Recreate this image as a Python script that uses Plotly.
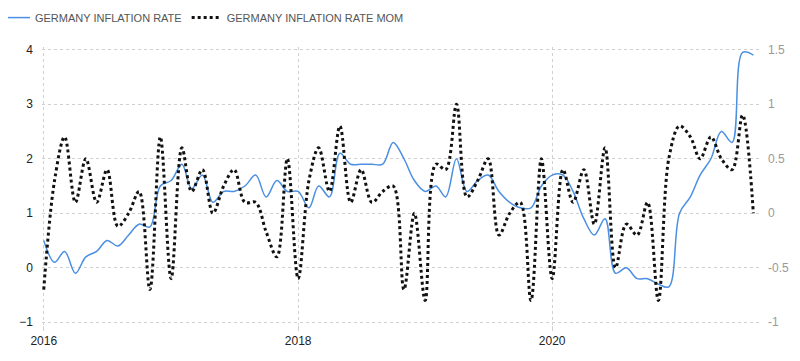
import pandas as pd
import plotly.graph_objects as go

# Monthly dates Jan 2016 .. Aug 2021
months = pd.date_range("2016-01-01", periods=68, freq="MS")

inflation_rate = [
    0.5, 0.1, 0.3, -0.1, 0.2, 0.3, 0.5, 0.4, 0.6, 0.8, 0.75, 1.5,      # 2016
    1.6, 1.9, 1.45, 1.7, 1.2, 1.4, 1.4, 1.5, 1.7, 1.3, 1.6, 1.4,       # 2017
    1.4, 1.1, 1.5, 1.3, 2.1, 1.9, 1.9, 1.9, 1.9, 2.3, 2.0, 1.6,        # 2018
    1.4, 1.5, 1.3, 2.0, 1.4, 1.6, 1.7, 1.4, 1.2, 1.1, 1.1, 1.5,        # 2019
    1.7, 1.7, 1.4, 0.9, 0.6, 0.9, -0.1, 0.0, -0.2, -0.2, -0.3, -0.35,  # 2020
    1.0, 1.3, 1.7, 2.0, 2.5, 2.3, 3.95, 3.9,                           # 2021
]

inflation_mom = [
    -0.7, 0.3, 0.7, 0.1, 0.5, 0.1, 0.4, -0.12, 0.0, 0.2, -0.7, 0.7,    # 2016
    -0.6, 0.6, 0.2, 0.4, 0.0, 0.25, 0.4, 0.1, 0.1, -0.17, -0.4, 0.5,   # 2017
    -0.6, 0.3, 0.6, 0.2, 0.8, 0.1, 0.4, 0.1, 0.2, 0.25, -0.7, 0.0,     # 2018
    -0.8, 0.45, 0.4, 1.0, 0.15, 0.3, 0.5, -0.2, 0.0, 0.1, -0.8, 0.5,   # 2019
    -0.6, 0.4, 0.1, 0.4, -0.1, 0.6, -0.5, -0.1, -0.2, 0.1, -0.8, 0.5,  # 2020
    0.8, 0.7, 0.5, 0.7, 0.5, 0.4, 0.9, 0.0,                            # 2021
]

left_ticks = [-1, 0, 1, 2, 3, 4]
right_ticks = [-1, -0.5, 0, 0.5, 1, 1.5]
right_tick_text = ["-1", "-0.5", "0", "0.5", "1", "1.5"]

FONT = "Liberation Sans, Arial, sans-serif"
GRID = "#d0d0d0"

fig = go.Figure()
fig.add_trace(go.Scatter(
    x=months, y=inflation_rate, name="GERMANY INFLATION RATE",
    mode="lines", line=dict(color="#4a8fe2", width=1.5, shape="spline", smoothing=1),
    yaxis="y",
))
fig.add_trace(go.Scatter(
    x=months, y=inflation_mom, name="GERMANY INFLATION RATE MOM",
    mode="lines", line=dict(color="#111111", width=3, dash="dot", shape="spline", smoothing=1),
    yaxis="y2",
))

# The page body has an 8px default margin, so the figure is 8px smaller
fig.update_layout(
    width=792, height=353,
    margin=dict(l=34, r=39, t=39, b=36, autoexpand=False),
    paper_bgcolor="white", plot_bgcolor="white",
    showlegend=True,
    legend=dict(
        orientation="h", x=-0.0654, y=1.158, xref="paper", yref="paper",
        xanchor="left", yanchor="top",
        font=dict(family=FONT, size=11, color="#555555"),
        bgcolor="rgba(0,0,0,0)",
    ),
    xaxis=dict(
        type="date", automargin=False,
        range=["2015-12-27", "2021-08-23"],
        dtick="M24", tick0="2016-01-01", tickformat="%Y",
        showgrid=True, gridcolor=GRID, griddash="dot", gridwidth=1,
        ticks="outside", ticklen=5, tickcolor=GRID,
        showline=False, zeroline=False,
        tickfont=dict(family=FONT, size=12, color="#222222"),
    ),
    yaxis=dict(
        automargin=False,
        range=[-1.05, 4.05], tickvals=left_ticks,
        showgrid=True, gridcolor=GRID, griddash="dot", gridwidth=1,
        zeroline=False, showline=False,
        tickfont=dict(family=FONT, size=12, color="#222222"),
        ticklabelstandoff=8,
    ),
    yaxis2=dict(
        automargin=False,
        range=[-1.025, 1.525], tickvals=right_ticks, ticktext=right_tick_text,
        overlaying="y", side="right",
        showgrid=False, zeroline=False, showline=False,
        tickfont=dict(family=FONT, size=12, color="#999999"),
        ticklabelstandoff=6,
    ),
)

fig.write_html("out.html")
